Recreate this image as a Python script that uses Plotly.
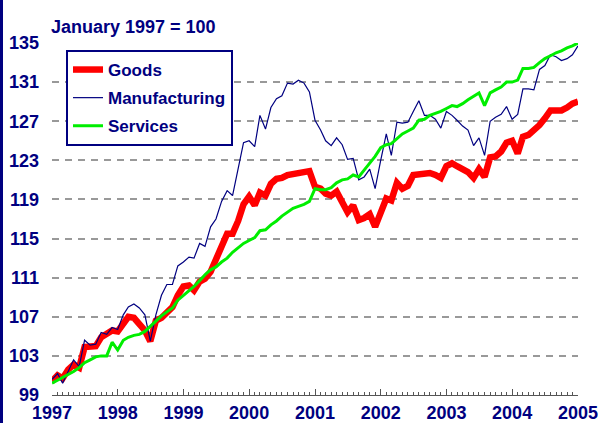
import pandas as pd
import plotly.graph_objects as go

# Monthly index values, January 1997 = 100 (Jan 1997 .. Jan 2005)
months = pd.date_range("1997-01-01", "2005-01-01", freq="MS")

goods = [
    100.4, 101.0, 100.7, 101.6, 102.1, 101.8, 103.9, 104.0, 104.0, 104.9, 105.3, 105.6,
    105.5, 106.3, 107.0, 106.9, 106.2, 105.6, 104.5, 106.6, 106.9, 107.4, 108.0, 109.2,
    110.1, 110.2, 109.7, 110.6, 110.9, 111.6, 113.0, 114.0, 115.5, 115.5, 116.8, 118.5,
    119.3, 118.4, 119.7, 119.4, 120.6, 121.1, 121.2, 121.5, 121.6, 121.6, 121.7, 121.9,
    120.3, 120.1, 119.6, 119.4, 119.8, 118.6, 117.7, 118.4, 116.9, 117.1, 117.5, 116.2,
    117.6, 119.1, 118.9, 120.7, 120.1, 120.4, 121.5, 121.6, 121.6, 121.7, 121.5, 121.2,
    122.4, 122.7, 122.4, 122.1, 121.8, 121.2, 122.1, 121.3, 123.3, 123.4, 123.9, 124.8,
    125.0, 123.7, 125.4, 125.6, 126.0, 126.6, 127.3, 128.1, 128.1, 128.1, 128.4, 128.8,
    129.0,
]

manufacturing = [
    100.6, 101.2, 100.2, 101.4, 102.6, 101.9, 104.6, 104.1, 104.2, 105.4, 105.2, 105.9,
    105.7, 107.2, 108.0, 108.3, 107.9, 107.2, 104.5, 107.2, 109.2, 110.3, 110.3, 112.2,
    112.6, 113.1, 113.0, 114.5, 114.2, 116.2, 117.0, 118.8, 119.9, 119.4, 122.0, 124.8,
    125.0, 124.4, 127.6, 126.2, 128.4, 129.3, 129.6, 130.9, 130.8, 131.2, 130.9, 130.0,
    127.1, 126.1, 125.0, 124.5, 125.3, 124.6, 123.1, 123.2, 121.0, 121.3, 122.1, 120.1,
    123.0, 125.7, 123.5, 126.9, 126.8, 126.9, 128.0, 129.1, 127.6, 127.6, 127.2, 126.3,
    128.0, 127.6, 127.1, 126.5, 126.1, 124.5, 125.3, 123.5, 127.0, 127.4, 127.7, 128.5,
    127.2, 127.7, 130.3, 130.3, 130.2, 132.3, 132.7, 133.8, 133.6, 133.2, 133.4, 133.8,
    134.7,
]

services = [
    100.2, 100.5, 100.8, 101.1, 101.4, 101.8, 102.3, 102.6, 102.9, 103.0, 103.0, 104.4,
    103.6, 104.6, 104.9, 105.1, 105.2, 105.5, 106.0, 106.6, 107.1, 107.5, 107.9, 108.7,
    109.2, 109.6, 110.1, 110.7, 111.3, 111.8, 112.1, 112.6, 113.0, 113.6, 114.1, 114.5,
    114.8, 115.1, 115.8, 115.9, 116.4, 116.8, 117.3, 117.7, 118.1, 118.3, 118.5, 118.8,
    120.1, 120.0, 120.0, 120.2, 120.7, 121.0, 121.1, 121.5, 121.3, 122.0, 122.7, 123.4,
    124.3, 124.6, 124.7, 125.2, 125.7, 126.0, 126.3, 127.1, 127.2, 127.6, 127.8, 128.0,
    128.3, 128.6, 128.5, 128.8, 129.2, 129.6, 129.9, 128.6, 129.9, 130.2, 130.5, 131.0,
    131.0, 131.2, 132.4, 132.4, 132.5, 133.0, 133.4, 133.7, 134.0, 134.2, 134.5, 134.7,
    135.0,
]

y_ticks = [99, 103, 107, 111, 115, 119, 123, 127, 131, 135]
x_ticks = [f"{y}-01-01" for y in range(1997, 2006)]
x_labels = [str(y) for y in range(1997, 2006)]

NAVY = "#000080"
FONT = "Liberation Sans, Arial, sans-serif"

fig = go.Figure()
fig.add_trace(go.Scatter(x=months, y=goods, name="Goods", mode="lines",
                         line=dict(color="#ff0000", width=6.5), legendgroup="g"))
fig.add_trace(go.Scatter(x=months, y=manufacturing, name="Manufacturing", mode="lines",
                         line=dict(color=NAVY, width=1.2), legendgroup="m"))
fig.add_trace(go.Scatter(x=months, y=services, name="Services", mode="lines",
                         line=dict(color="#00ee00", width=3), legendgroup="s"))

fig.update_layout(
    width=598, height=423,
    margin=dict(l=52, r=20, t=43, b=28, autoexpand=False),
    paper_bgcolor="white", plot_bgcolor="white",
    font=dict(family=FONT, color=NAVY, size=17),
    title=dict(text="January 1997 = 100", x=51 / 598, xanchor="left", xref="container",
               y=1 - 27 / 423, yanchor="middle", yref="container",
               font=dict(family=FONT, size=18, color=NAVY, weight="bold")),
    showlegend=True,
    legend=dict(x=14 / 526, y=(395.3 - 50) / 352.3, xanchor="left", yanchor="top",
                bgcolor="white", bordercolor=NAVY, borderwidth=2,
                font=dict(family=FONT, size=17, color=NAVY, weight="bold"),
                tracegroupgap=3, itemwidth=30),
    xaxis=dict(type="date", range=["1997-01-01", "2005-01-01"],
               tickvals=x_ticks, ticktext=x_labels,
               showgrid=False, zeroline=False,
               showline=True, linecolor="#555555", linewidth=1,
               ticks="inside", ticklen=6, tickcolor="#555555", tickwidth=1,
               minor=dict(ticks="inside", ticklen=3, dtick="M1", tickcolor="#555555",
                          showgrid=False),
               tickfont=dict(family=FONT, size=18, color=NAVY, weight="bold"),
               ticklabelstandoff=1, ticklabeloverflow="allow", automargin=False),
    yaxis=dict(range=[99, 135], tickvals=y_ticks, ticktext=[str(v) for v in y_ticks],
               showgrid=True, gridcolor="#999999", gridwidth=1.5, griddash="7px,6px",
               zeroline=False, showline=False, ticks="",
               tickfont=dict(family=FONT, size=18, color=NAVY, weight="bold"),
               ticklabelstandoff=12, automargin=False),
    shapes=[dict(type="line", xref="paper", yref="paper",
                 x0=(1.5 - 52) / 526, x1=(1.5 - 52) / 526, y0=-0.2, y1=1.3,
                 line=dict(color=NAVY, width=3))],
)

fig.write_html("out.html", config={"displayModeBar": False},
               post_script="document.body.style.margin='0';document.body.style.overflow='hidden';")
